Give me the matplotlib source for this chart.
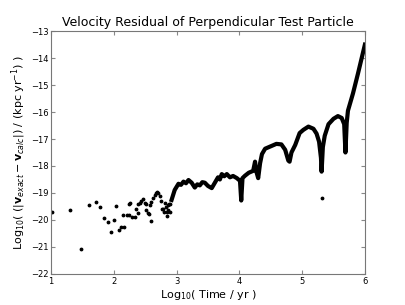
import numpy as np
import matplotlib
matplotlib.use("Agg")
import matplotlib.pyplot as plt

# scattered early-time points (log10 time, log10 residual)
scatter_x = [1.01, 1.31, 1.48, 1.60, 1.71, 1.78, 1.84, 1.90, 1.95, 2.00, 2.04, 2.08,
             2.11, 2.14, 2.17, 2.21, 2.24, 2.25, 2.26, 2.29, 2.33, 2.35, 2.38, 2.39,
             2.42, 2.44, 2.47, 2.49, 2.51, 2.52, 2.54, 2.56, 2.57, 2.59, 2.60, 2.62,
             2.65, 2.67, 2.69, 2.71, 2.73, 2.75, 2.77, 2.79, 2.80, 2.82, 2.83, 2.84,
             2.85, 2.86, 2.87, 2.88, 2.89, 2.90, 5.31]
scatter_y = [-19.69, -19.63, -21.07, -19.46, -19.33, -19.52, -19.94, -20.06, -20.43, -20.01, -19.47, -20.38,
             -20.26, -19.83, -20.26, -19.80, -19.80, -19.42, -19.38, -19.90, -19.90, -19.59, -19.73, -19.41,
             -19.36, -19.28, -19.23, -19.36, -19.42, -19.65, -19.75, -19.79, -19.44, -20.03, -19.32, -19.20,
             -19.08, -19.00, -18.96, -19.00, -19.12, -19.30, -19.60, -19.60, -19.72, -19.36, -19.52, -19.69,
             -19.85, -19.62, -19.45, -19.40, -19.70, -19.40, -19.20]

# dense later-time curve
curve_x = [2.92, 2.97, 3.03, 3.07, 3.11, 3.15, 3.19, 3.24, 3.29, 3.33, 3.37, 3.41, 3.45, 3.50, 3.56, 3.61,
           3.66, 3.69, 3.72, 3.76, 3.80, 3.85, 3.90, 3.96, 4.01, 4.03, 4.05, 4.09, 4.15, 4.22,
           4.25, 4.27, 4.30, 4.33, 4.36, 4.41, 4.51, 4.59, 4.67, 4.73, 4.78, 4.80,
           4.83, 4.89, 4.96, 5.02, 5.10, 5.18, 5.23, 5.27, 5.30, 5.31, 5.33, 5.36,
           5.42, 5.50, 5.57, 5.63, 5.67, 5.69, 5.71, 5.73, 5.81, 5.89, 6.00]
curve_y = [-19.26, -18.89, -18.66, -18.70, -18.58, -18.64, -18.52, -18.62, -18.80, -18.68, -18.72, -18.60, -18.62, -18.74, -18.82, -18.62,
           -18.42, -18.50, -18.30, -18.38, -18.30, -18.42, -18.37, -18.45, -18.55, -19.28, -18.45, -18.36, -18.25, -18.18,
           -17.84, -18.20, -18.45, -17.90, -17.56, -17.36, -17.26, -17.18, -17.20, -17.40, -17.80, -17.84,
           -17.50, -17.22, -16.78, -16.66, -16.54, -16.62, -16.80, -17.10, -17.70, -18.21, -17.30, -16.88,
           -16.45, -16.25, -16.15, -16.22, -16.45, -17.50, -16.40, -15.95, -15.31, -14.57, -13.50]

fig = plt.figure(figsize=(4.05, 3.05), dpi=100)
ax = fig.add_axes([0.126, 0.102, 0.775, 0.796])

ax.plot(curve_x, curve_y, '-', color='k', lw=3.0, solid_joinstyle='round')
ax.plot(scatter_x, scatter_y, '.', color='k', ms=3.5)

ax.set_xlim(1, 6)
ax.set_ylim(-22, -13)
ax.set_xticks(np.arange(1, 7))
ax.set_yticks(np.arange(-22, -12))
ax.tick_params(direction='in', top=True, right=True, labelsize=6, length=3,
               color='#888888', pad=2)
for s in ax.spines.values():
    s.set_color('#777777')

ax.set_title('Velocity Residual of Perpendicular Test Particle', fontsize=9, pad=4)
ax.set_xlabel(r'Log$_{10}$( Time / yr )', fontsize=8, labelpad=2)
ax.set_ylabel(r'Log$_{10}$( ($|\mathbf{v}_{exact} - \mathbf{v}_{calc}|$) / (kpc yr$^{-1}$) )',
              fontsize=8, labelpad=2)

fig.savefig('out.png', dpi=100)
